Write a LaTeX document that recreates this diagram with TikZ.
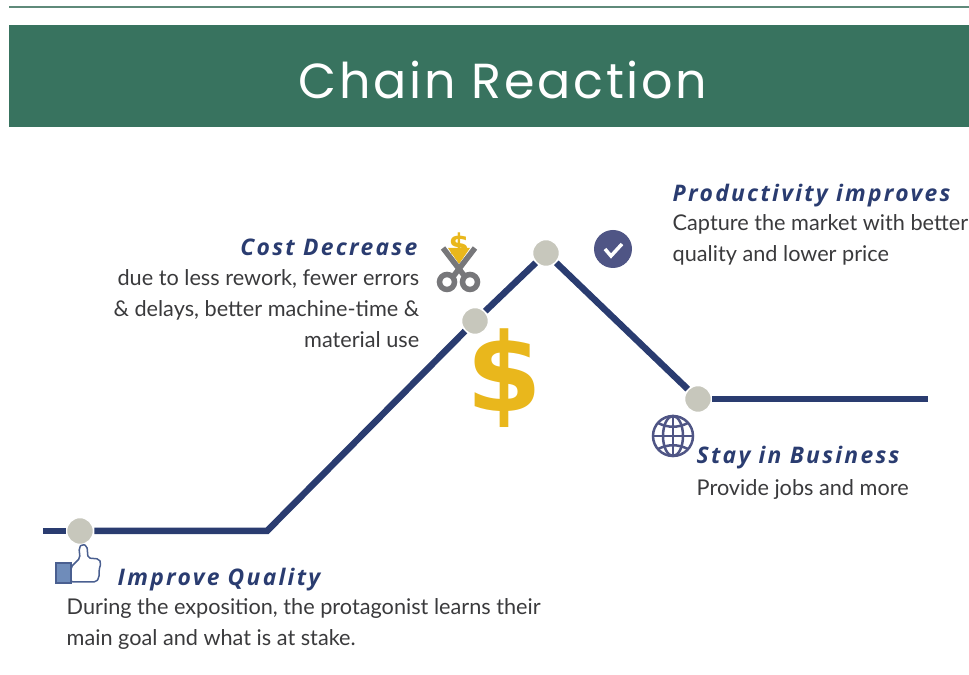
\documentclass[tikz,border=0pt]{standalone}
\usepackage{fontspec}
\setmainfont{Lato}
\newfontfamily\titlefont[LetterSpace=5.5]{Poppins}
\newfontfamily\headfont[LetterSpace=10]{Open Sans}
\newfontfamily\dollarfont{DejaVu Sans}
\definecolor{banner}{HTML}{38735F}
\definecolor{rule}{HTML}{5F8A7A}
\definecolor{navy}{HTML}{2A3C70}
\definecolor{dot}{HTML}{C7C7BC}
\definecolor{gold}{HTML}{E9B71C}
\definecolor{iconblue}{HTML}{4F5585}
\definecolor{scissor}{HTML}{77777A}
\definecolor{bodytext}{HTML}{3A3A3C}
\definecolor{thumbblue}{HTML}{6F8CBA}
\definecolor{thumbline}{HTML}{4A5F90}
\begin{document}
\begin{tikzpicture}
	\tikzstyle{point}=[circle,fill=dot,draw=white,line width=0.015cm,minimum size=0.27cm,inner sep=0]
	\tikzstyle{head}=[inner sep=0,text=navy,font=\fontsize{6.5}{8}\headfont\bfseries\itshape]
	\tikzstyle{body}=[inner sep=0,text=bodytext,font=\fontsize{6.17}{8.82}\selectfont]
	\tikzstyle{curve}=[navy,line width=0.065cm]
	\useasboundingbox (0,0) rectangle (9.69,6.75);

	\node[fill=rule,minimum width=9.6cm,minimum height=0.02cm,inner sep=0](rule) at (4.89,6.68){};
	\node[fill=banner,minimum width=9.6cm,minimum height=1.02cm,inner sep=0](banner) at (4.89,5.99){};
	\node[text=white,inner sep=0,font=\fontsize{14}{16}\titlefont](title) at (5.03,5.95){Chain Reaction};

	% the curve
	\coordinate (start) at (0.43,1.44);
	\coordinate (bend) at (2.67,1.44);
	\coordinate (end) at (9.28,2.76);
	\node[point](quality) at (0.80,1.44){};
	\node[point](cost) at (4.75,3.54){};
	\node[point](peak) at (5.46,4.22){};
	\node[point](stay) at (6.98,2.76){};

	\draw[curve] (start) -- (quality);
	\draw[curve] (quality) -- (bend) -- (cost);
	\draw[curve] (cost) -- (peak);
	\draw[curve] (peak) -- (stay);
	\draw[curve] (stay) -- (end);

	% texts
	\node[head,anchor=base west](qualityhead) at (1.17,0.89){Improve Quality};
	\node[body,anchor=north west,align=left](qualitytext) at (0.66,0.77){During the exposition, the protagonist learns their\\main goal and what is at stake.};
	\node[head,anchor=base east](costhead) at (4.18,4.19){Cost Decrease};
	\node[body,anchor=north east,align=right](costtext) at (4.20,4.06){due to less rework, fewer errors\\\& delays, better machine-time \&\\material use};
	\node[head,anchor=base west](peakhead) at (6.72,4.73){Productivity improves};
	\node[body,anchor=north west,align=left](peaktext) at (6.72,4.61){Capture the market with better\\quality and lower price};
	\node[head,anchor=base west](stayhead) at (6.96,2.11){Stay in Business};
	\node[body,anchor=base west](staytext) at (6.96,1.79){Provide jobs and more};

	% big dollar
	\node[text=gold,inner sep=0,font=\fontsize{31}{33}\dollarfont\bfseries](dollar) at (5.04,2.97){\$};

	% scissors
	\fill[gold] (4.48,4.27) -- (4.70,4.27) -- (4.59,4.11) -- cycle;
	\node[text=gold,inner sep=0,font=\fontsize{8.5}{10}\dollarfont\bfseries](smalldollar) at (4.59,4.29){\$};
	\draw[scissor,line width=0.055cm] (4.43,4.27) -- (4.66,3.97);
	\draw[scissor,line width=0.055cm] (4.75,4.27) -- (4.52,3.97);
	\draw[scissor,line width=0.055cm] (4.47,3.93) circle (0.075);
	\draw[scissor,line width=0.055cm] (4.70,3.93) circle (0.075);

	% check
	\fill[iconblue] (6.13,4.26) circle (0.19);
	\draw[white,line width=0.035cm] (6.05,4.26) -- (6.11,4.19) -- (6.22,4.31);

	% globe
	\begin{scope}[iconblue,line width=0.025cm]
		\draw (6.73,2.39) circle (0.2);
		\draw (6.73,2.39) ellipse (0.1 and 0.2);
		\draw (6.73,2.59) -- (6.73,2.19);
		\draw (6.53,2.39) -- (6.93,2.39);
		\draw (6.58,2.52) .. controls (6.68,2.47) and (6.78,2.47) .. (6.88,2.52);
		\draw (6.58,2.26) .. controls (6.68,2.31) and (6.78,2.31) .. (6.88,2.26);
	\end{scope}

	% thumb
	\draw[thumbline,fill=thumbblue,line width=0.015cm] (0.56,0.92) rectangle (0.71,1.12);
	\draw[thumbline,fill=white,line width=0.015cm,rounded corners=0.02cm] (0.71,1.08) -- (0.80,1.17) -- (0.79,1.27) -- (0.82,1.31) -- (0.87,1.29) -- (0.88,1.17) -- (0.99,1.16) -- (1.01,1.12) -- (0.99,1.05) -- (0.99,0.97) -- (0.96,0.93) -- (0.71,0.93) -- cycle;
\end{tikzpicture}
\end{document}
